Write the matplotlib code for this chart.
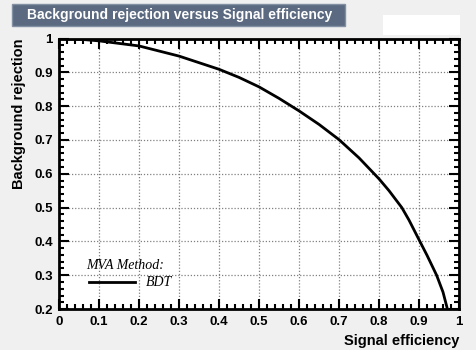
import matplotlib.pyplot as plt
from matplotlib.patches import Rectangle
from matplotlib.ticker import MultipleLocator

# ROC curve for the BDT classifier
sig_eff = [0.0, 0.05, 0.1, 0.2, 0.3, 0.4, 0.45, 0.5, 0.55, 0.6, 0.65, 0.7, 0.75, 0.8,
           0.825, 0.857, 0.875, 0.9, 0.92, 0.944, 0.96, 0.971]
bkg_rej = [1.0, 0.998, 0.993, 0.978, 0.948, 0.909, 0.885, 0.857, 0.823, 0.786, 0.746,
           0.701, 0.647, 0.585, 0.55, 0.5, 0.463, 0.405, 0.359, 0.3, 0.25, 0.2]
method = 'BDT'

plt.rcParams['font.family'] = ['Liberation Sans', 'DejaVu Sans']

fig = plt.figure(figsize=(4.77, 3.5), dpi=100, facecolor='#f0f0f0')
ax = fig.add_axes([0.1237, 0.117, 0.8386, 0.773])
ax.set_facecolor('white')

ax.plot(sig_eff, bkg_rej, color='black', lw=2, solid_joinstyle='round', zorder=3)
ax.set_xlim(0, 1)
ax.set_ylim(0.2, 1)

ax.xaxis.set_minor_locator(MultipleLocator(0.02))
ax.yaxis.set_minor_locator(MultipleLocator(0.02))
ax.tick_params(which='both', direction='in', top=True, right=True, width=1.5,
               labelsize=9.5)
ax.tick_params(axis='x', pad=5)
ax.tick_params(axis='y', pad=4.5)
ax.tick_params(which='major', length=7)
ax.tick_params(which='minor', length=3.5)
ax.set_xticks([0, 0.1, 0.2, 0.3, 0.4, 0.5, 0.6, 0.7, 0.8, 0.9, 1])
ax.set_xticklabels(['0', '0.1', '0.2', '0.3', '0.4', '0.5', '0.6', '0.7', '0.8', '0.9', '1'],
                   fontweight='bold')
ax.set_yticks([0.2, 0.3, 0.4, 0.5, 0.6, 0.7, 0.8, 0.9, 1])
ax.set_yticklabels(['0.2', '0.3', '0.4', '0.5', '0.6', '0.7', '0.8', '0.9', '1'],
                   fontweight='bold')
ax.grid(True, which='major', color='#808080', ls=(0, (1, 1.5)), lw=0.9)
for s in ax.spines.values():
    s.set_linewidth(2)

ax.set_xlabel('Signal efficiency', fontsize=10.5, fontweight='bold', loc='right', labelpad=4)
ax.set_ylabel('Background rejection', fontsize=10.5, fontweight='bold', loc='top', labelpad=6)

# legend
serif = ['Liberation Serif', 'DejaVu Serif']
ax.text(0.068, 0.33, 'MVA Method:', fontsize=10, style='italic', family=serif, va='center')
ax.plot([0.075, 0.19], [0.28, 0.28], color='black', lw=2)
ax.text(0.217, 0.278, method, fontsize=10, style='italic', family=serif, va='center')

# title box and empty box at the top
fig.patches.append(Rectangle((12 / 477, 1 - 26 / 350), 333 / 477, 22 / 350,
                             transform=fig.transFigure, facecolor='#5b6a80',
                             edgecolor='#8390a3', lw=1))
fig.text(27 / 477, 1 - 15 / 350, 'Background rejection versus Signal efficiency',
         color='white', fontsize=10, fontweight='bold', va='center')
fig.patches.append(Rectangle((383 / 477, 1 - 35 / 350), 77 / 477, 20 / 350,
                             transform=fig.transFigure, facecolor='white',
                             edgecolor='none'))

fig.savefig('out.png', dpi=100, facecolor=fig.get_facecolor())
